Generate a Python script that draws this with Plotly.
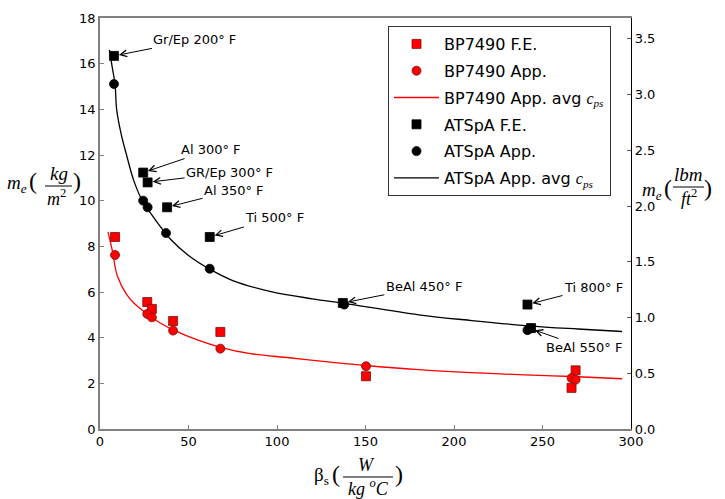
import plotly.graph_objects as go

# ---------------- data ----------------
bp_fe_x = [8.5, 26.7, 29.3, 41.3, 68.0, 150.3, 266.4, 268.7]
bp_fe_y = [8.41, 5.56, 5.26, 4.73, 4.25, 2.31, 1.80, 2.57]
bp_app_x = [8.5, 26.7, 29.3, 41.3, 68.0, 150.3, 266.4, 268.7]
bp_app_y = [7.62, 5.04, 4.89, 4.31, 3.52, 2.75, 2.23, 2.16]

ats_fe_x = [7.9, 24.4, 26.9, 37.9, 62.0, 137.2, 241.5, 243.5]
ats_fe_y = [16.34, 11.23, 10.80, 9.71, 8.41, 5.52, 5.45, 4.42]
ats_app_x = [7.9, 24.4, 26.9, 37.3, 62.0, 138.0, 241.5, 243.0]
ats_app_y = [15.11, 10.00, 9.71, 8.58, 7.02, 5.45, 4.33, 4.40]

bp_curve_x = [4.5, 7, 9.8, 15, 20, 26.7, 35, 42, 55, 68, 85, 107, 130, 150, 180, 210, 240, 267, 295]
bp_curve_y = [8.63, 7.8, 6.7, 5.9, 5.45, 5.04, 4.6, 4.32, 3.9, 3.58, 3.3, 3.12, 2.93, 2.78, 2.6, 2.47, 2.37, 2.3, 2.2]
ats_curve_x = [5.3, 7, 8.5, 9.4, 12, 15, 19, 23.9, 30, 40, 50, 62, 75, 96, 120, 138, 180, 210, 242, 270, 295]
ats_curve_y = [16.6, 15.8, 15.1, 14.0, 12.9, 12.0, 10.9, 10.0, 9.3, 8.3, 7.6, 7.0, 6.5, 6.03, 5.7, 5.5, 5.0, 4.75, 4.52, 4.38, 4.27]

material_labels = ["Gr/Ep 200° F", "Al 300° F", "GR/Ep 300° F", "Al 350° F",
                   "Ti 500° F", "BeAl 450° F", "Ti 800° F", "BeAl 550° F"]

x_range = [0, 300]
y_range = [0, 18]
KG_M2_TO_LBM_FT2 = 0.204816
y2_ticks = [0.0, 0.5, 1.0, 1.5, 2.0, 2.5, 3.0, 3.5]

# ---------------- layout geometry ----------------
W, H = 725, 499
L, R, T, B = 100, 94, 18, 70
PW, PH = W - L - R, H - T - B


def px(xp):
    return (xp - L) / PW


def py(yp):
    return (H - B - yp) / PH


SERIF = "Liberation Serif"
SANS = "DejaVu Sans"
cps = '<span style="font-family:Liberation Serif"><i>c</i><sub><i>ps</i></sub></span>'

fig = go.Figure()

# lines first (drawn under markers)
fig.add_trace(go.Scatter(x=bp_curve_x, y=bp_curve_y, mode="lines", line=dict(color="red", width=1.3, shape="spline"),
                         name="BP7490 App. avg " + cps, legendrank=3, legendgroup="g3"))
fig.add_trace(go.Scatter(x=ats_curve_x, y=ats_curve_y, mode="lines", line=dict(color="black", width=1.3, shape="spline"),
                         name="ATSpA App. avg " + cps, legendrank=6, legendgroup="g6"))
fig.add_trace(go.Scatter(x=bp_fe_x, y=bp_fe_y, mode="markers",
                         marker=dict(symbol="square", size=9, color="red", line=dict(color="#7a1010", width=0.8)),
                         name="BP7490 F.E.", legendrank=1, legendgroup="g1"))
fig.add_trace(go.Scatter(x=bp_app_x, y=bp_app_y, mode="markers",
                         marker=dict(symbol="circle", size=9, color="red", line=dict(color="#7a1010", width=0.8)),
                         name="BP7490 App.", legendrank=2, legendgroup="g2"))
fig.add_trace(go.Scatter(x=ats_fe_x, y=ats_fe_y, mode="markers",
                         marker=dict(symbol="square", size=9, color="black", line=dict(color="black", width=0.8)),
                         name="ATSpA F.E.", legendrank=4, legendgroup="g4"))
fig.add_trace(go.Scatter(x=ats_app_x, y=ats_app_y, mode="markers",
                         marker=dict(symbol="circle", size=9, color="black", line=dict(color="black", width=0.8)),
                         name="ATSpA App.", legendrank=5, legendgroup="g5"))
# invisible trace to activate the right axis
fig.add_trace(go.Scatter(x=[None], y=[None], yaxis="y2", showlegend=False, hoverinfo="skip"))

# ---------------- arrow annotations ----------------
heads = [(ats_fe_x[i], ats_fe_y[i]) for i in range(7)] + [(ats_app_x[7], ats_app_y[7])]
offsets = [(81, -16), (68, -23), (82, -10), (67, -17), (65, -19), (81, -16), (66, -17), (54, 19)]
annotations = []
for lab, (hx, hy), (ax, ay) in zip(material_labels, heads, offsets):
    annotations.append(dict(x=hx, y=hy, xref="x", yref="y", text=lab, showarrow=True,
                            ax=ax, ay=ay, arrowhead=5, arrowsize=1.3, arrowwidth=1, arrowcolor="black",
                            standoff=5, font=dict(family=SANS, size=13, color="black")))

# ---------------- axis titles built as fractions ----------------
def txt(x, y, s, xa="center", size=19):
    return dict(x=px(x), y=py(y), xref="paper", yref="paper", text=s, showarrow=False,
                xanchor=xa, yanchor="middle", font=dict(family=SERIF, size=size, color="black"))


annotations += [
    txt(29, 184, "<i>m</i><sub><i>e</i></sub>", xa="right"),
    txt(27, 181, "(", xa="left", size=24),
    txt(59, 173, "<i>kg</i>"),
    txt(56, 197, "<i>m</i><sup>2</sup>", size=18),
    txt(71, 181, ")", xa="left", size=24),
    txt(664, 191, "<i>m</i><sub><i>e</i></sub>", xa="right"),
    txt(662, 188, "(", xa="left", size=24),
    txt(688, 174, "<i>lbm</i>"),
    txt(689, 197, "<i>ft</i><sup>2</sup>", size=18),
    txt(702, 188, ")", xa="left", size=24),
    txt(331, 476, "β<sub>s</sub>", xa="right"),
    txt(330, 474, "(", xa="left", size=24),
    txt(366, 465, "<i>W</i>", size=18),
    txt(368, 487, "<i>kg</i> <sup><i>o</i></sup><i>C</i>", size=18),
    txt(393, 474, ")", xa="left", size=24),
]

shapes = [
    dict(type="line", xref="paper", yref="paper", x0=px(45), x1=px(72), y0=py(186), y1=py(186),
         line=dict(color="black", width=1)),
    dict(type="line", xref="paper", yref="paper", x0=px(673), x1=px(704), y0=py(187), y1=py(187),
         line=dict(color="black", width=1)),
    dict(type="line", xref="paper", yref="paper", x0=px(343), x1=px(393), y0=py(477), y1=py(477),
         line=dict(color="black", width=1)),
]

fig.update_layout(
    width=W, height=H,
    margin=dict(l=L, r=R, t=T, b=B, pad=0),
    paper_bgcolor="white", plot_bgcolor="white",
    font=dict(family=SANS, size=13, color="black"),
    xaxis=dict(range=x_range, tickvals=[0, 50, 100, 150, 200, 250, 300], ticks="inside", ticklen=4,
               tickcolor="#808080", showgrid=False, zeroline=False, showline=True, linecolor="#808080",
               linewidth=1.5, mirror=True, tickfont=dict(family=SANS, size=13)),
    yaxis=dict(range=y_range, tickvals=list(range(0, 19, 2)), ticks="inside", ticklen=4,
               tickcolor="#808080", showgrid=False, zeroline=False, showline=True, linecolor="#808080",
               linewidth=1.5, tickfont=dict(family=SANS, size=13)),
    yaxis2=dict(range=[y_range[0] * KG_M2_TO_LBM_FT2, y_range[1] * KG_M2_TO_LBM_FT2], overlaying="y",
                side="right", tickvals=y2_ticks, tickformat=".1f", ticks="inside", ticklen=4,
                tickcolor="#555", showgrid=False, zeroline=False, showline=True, linecolor="black",
                linewidth=1.2, tickfont=dict(family=SANS, size=13)),
    legend=dict(x=px(388), y=py(26), xanchor="left", yanchor="top", bgcolor="white",
                bordercolor="#333", borderwidth=1, font=dict(family=SANS, size=16),
                tracegroupgap=3, itemwidth=45, traceorder="grouped"),
    annotations=annotations,
    shapes=shapes,
    showlegend=True,
)

fig.write_html("out.html", config={"displayModeBar": False},
               post_script="document.body.style.margin='0px';document.body.style.overflow='hidden';")
